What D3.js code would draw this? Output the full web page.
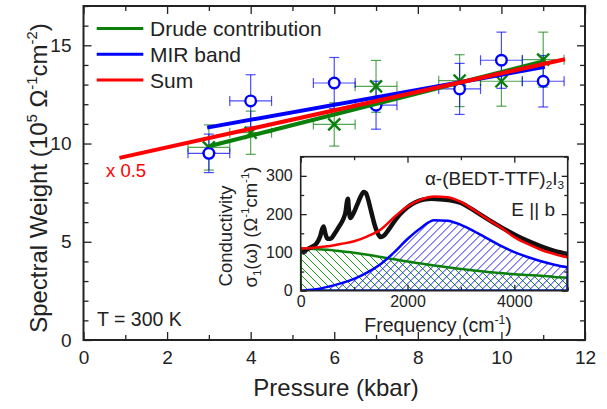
<!DOCTYPE html>
<html>
<head>
<meta charset="utf-8">
<script src="https://cdn.jsdelivr.net/npm/d3@7"></script>
<style>
  body { margin: 0; background: #fff; }
  svg { display: block; }
  text { font-family: "Liberation Sans", Arial, sans-serif; fill: #222; }
</style>
</head>
<body>
<div id="chart"></div>
<script>
const WIDTH = 607;
const HEIGHT = 409;

// main panel: spectral weight vs pressure
const pressure = [3, 4, 6, 7, 9, 10, 11];
const pressureErr = 0.5;
const mirWeight = [9.5, 12.17, 13.08, 11.95, 12.78, 14.24, 13.17];
const mirErr = [0.98, 1.33, 1.3, 1.22, 1.3, 1.43, 1.31];
const drudeWeight = [9.8, 10.55, 10.97, 12.91, 13.2, 13.17, 14.27];
const drudeErr = [1.15, 1.1, 1.1, 1.32, 1.32, 1.27, 1.4];

// linear fits (end points)
const drudeFit = [[3, 9.86], [11.04, 14.2]];
const mirFit = [[2.96, 10.81], [11.04, 13.9]];
const sumFit = [[0.86, 9.27], [11.52, 14.29]];

const xTicks = [0, 2, 4, 6, 8, 10, 12];
const yTicks = [0, 5, 10, 15];

// inset: optical conductivity
const fitFreq = [0, 250, 500, 750, 1000, 1250, 1500, 1750, 2000, 2250, 2500,
  2750, 3000, 3250, 3500, 3750, 4000, 4250, 4500, 4750, 5000];
const drudeSigma = [110, 109, 107, 103, 99, 94, 88, 82, 76, 71, 66,
  61, 57, 53, 49, 46, 43, 41, 39, 36, 34];
const mirSigma = [0, 3, 10, 19, 31, 48, 70, 100, 135, 164, 184,
  183, 172, 155, 136, 117, 101, 88, 77, 68, 61];
const sumSigma = [110, 112, 116, 122, 129, 142, 160, 192, 220, 238, 246,
  244, 232, 210, 187, 165, 140, 122, 107, 96, 87];
const dataFreq = [20, 100, 200, 300, 360, 400, 430, 460, 500, 560, 640, 720,
  800, 840, 870, 885, 900, 930, 980, 1050, 1120, 1180, 1220, 1260, 1300, 1350,
  1400, 1450, 1500, 1560, 1650, 1750, 1850, 2000, 2150, 2300, 2450, 2600, 2800,
  3000, 3250, 3500, 3750, 4000, 4250, 4500, 4750, 5000];
const dataSigma = [98, 106, 114, 124, 140, 160, 168, 150, 136, 136, 150, 168,
  188, 205, 235, 240, 215, 190, 200, 222, 245, 258, 255, 240, 218, 190,
  165, 148, 140, 144, 160, 180, 198, 218, 231, 238, 240, 239, 236,
  229, 209, 187, 166, 147, 130, 116, 104, 96];
const insetXTicks = [0, 2000, 4000];
const insetYTicks = [0, 100, 200, 300];

const GREEN = "#0a800a";
const BLUE = "#0000ff";
const RED = "#ff0000";

const svg = d3.select("#chart")
  .append("svg")
  .attr("width", WIDTH)
  .attr("height", HEIGHT);

// text with super/subscripts: parts = [[string, "sup" | "sub" | null], ...]
const richText = (sel, parts, size) => {
  parts.forEach(([str, kind]) => {
    const t = sel.append("tspan").text(str);
    if (kind) {
      t.attr("font-size", size * 0.62)
        .attr("baseline-shift", kind === "sup" ? size * 0.42 : -size * 0.22);
    }
  });
  return sel;
};

const x = d3.scaleLinear().domain([0, 12]).range([83.5, 585]);
const y = d3.scaleLinear().domain([0, 17]).range([340, 6]);

const drawFrameAxes = (xs, ys, xMajor, xMinor, yMajor, yMinor, major, minor, font, padX, padY, frameW) => {
  const [x0, x1] = xs.range();
  const [y0, y1] = ys.range();
  const g = svg.append("g");
  const axes = [
    [d3.axisBottom, xs, xMajor, xMinor, `translate(0,${y0})`, true],
    [d3.axisTop, xs, xMajor, xMinor, `translate(0,${y1})`, false],
    [d3.axisLeft, ys, yMajor, yMinor, `translate(${x0},0)`, true],
    [d3.axisRight, ys, yMajor, yMinor, `translate(${x1},0)`, false]
  ];
  axes.forEach(([axis, scale, maj, mnr, tr, labels], i) => {
    g.append("g")
      .attr("transform", tr)
      .call(axis(scale).tickValues(mnr).tickSize(-minor).tickFormat(""))
      .call(a => a.select(".domain").remove());
    const ga = g.append("g")
      .attr("transform", tr)
      .call(axis(scale).tickValues(maj).tickSize(-major)
        .tickPadding(i === 0 ? padX : padY)
        .tickFormat(labels ? d3.format("d") : ""))
      .call(a => a.select(".domain").remove());
    ga.selectAll("text")
      .attr("font-size", font)
      .attr("font-family", null)
      .attr("fill", "#222");
  });
  g.selectAll("line").attr("stroke", "#222").attr("stroke-width", 1.3);
  g.append("rect")
    .attr("x", x0).attr("y", y1)
    .attr("width", x1 - x0).attr("height", y0 - y1)
    .attr("fill", "none")
    .attr("stroke", "#222")
    .attr("stroke-width", frameW);
  return g;
};

drawFrameAxes(x, y, xTicks, d3.range(1, 12, 2), yTicks,
  d3.range(0, 18).filter(v => v % 5 !== 0), 8, 5, 19, 11, 12, 2);

// axis titles
svg.append("text")
  .attr("x", 336).attr("y", 396)
  .attr("text-anchor", "middle")
  .attr("font-size", 24)
  .text("Pressure (kbar)");

richText(svg.append("text")
  .attr("transform", "translate(47,178) rotate(-90)")
  .attr("text-anchor", "middle")
  .attr("font-size", 24),
  [["Spectral Weight (10", null], ["5", "sup"], [" \u03A9", null], ["-1", "sup"],
   ["cm", null], ["-2", "sup"], [")", null]], 24);

// inset
const ix = d3.scaleLinear().domain([0, 5000]).range([300.7, 567.7]);
const iy = d3.scaleLinear().domain([0, 350]).range([290.7, 156.7]);
const [ix0, ix1] = ix.range();
const [iy0, iy1] = iy.range();

svg.append("rect")
  .attr("x", ix0).attr("y", iy1)
  .attr("width", ix1 - ix0).attr("height", iy0 - iy1)
  .attr("fill", "#fff");

const area = d3.area()
  .x(d => ix(d[0]))
  .y0(iy(0))
  .y1(d => iy(d[1]))
  .curve(d3.curveMonotoneX);
const line = d3.line()
  .x(d => ix(d[0]))
  .y(d => iy(d[1]))
  .curve(d3.curveMonotoneX);

const drudePts = fitFreq.map((f, i) => [f, drudeSigma[i]]);
const mirPts = fitFreq.map((f, i) => [f, mirSigma[i]]);
const sumPts = fitFreq.map((f, i) => [f, sumSigma[i]]);
const dataPts = dataFreq.map((f, i) => [f, dataSigma[i]]);

const defs = svg.append("defs");
defs.append("clipPath").attr("id", "insetClip")
  .append("rect")
  .attr("x", ix0).attr("y", iy1)
  .attr("width", ix1 - ix0).attr("height", iy0 - iy1);
defs.append("clipPath").attr("id", "drudeClip")
  .append("path").attr("d", area(drudePts));
defs.append("clipPath").attr("id", "mirClip")
  .append("path").attr("d", area(mirPts));

const inset = svg.append("g").attr("clip-path", "url(#insetClip)");

// diagonal hatching, clipped to a filled area
const hatchLines = (clipId, color, dir) => {
  const step = 8;
  const h = iy0 - iy1;
  const g = inset.append("g").attr("clip-path", `url(#${clipId})`);
  g.selectAll("line")
    .data(d3.range(ix0 - h, ix1 + h, step))
    .enter()
    .append("line")
    .attr("x1", d => d)
    .attr("y1", iy1)
    .attr("x2", d => d + (dir === "back" ? h : -h))
    .attr("y2", iy0)
    .attr("stroke", color)
    .attr("stroke-width", 1);
};
hatchLines("drudeClip", "#1a951a", "back");
hatchLines("mirClip", "#1f1fff", "fwd");

inset.append("path")
  .attr("d", area(drudePts))
  .attr("fill", "none")
  .attr("stroke", GREEN)
  .attr("stroke-width", 2.5);
inset.append("path")
  .attr("d", area(mirPts))
  .attr("fill", "none")
  .attr("stroke", BLUE)
  .attr("stroke-width", 2.5);
inset.append("path")
  .attr("d", line(dataPts))
  .attr("fill", "none")
  .attr("stroke", "#111")
  .attr("stroke-width", 4.5)
  .attr("stroke-linejoin", "round");
inset.append("path")
  .attr("d", line(sumPts))
  .attr("fill", "none")
  .attr("stroke", RED)
  .attr("stroke-width", 2.5);

drawFrameAxes(ix, iy, insetXTicks, [1000, 3000, 5000], insetYTicks,
  [50, 150, 250, 350], 6, 3.5, 16, 5, 8, 1.6);

// inset texts
richText(svg.append("text")
  .attr("x", 564).attr("y", 185)
  .attr("text-anchor", "end")
  .attr("font-size", 19),
  [["\u03B1-(BEDT-TTF)", null], ["2", "sub"], ["I", null], ["3", "sub"]], 19);

svg.append("text")
  .attr("x", 555).attr("y", 216)
  .attr("text-anchor", "end")
  .attr("font-size", 19)
  .text("E || b");

svg.append("text")
  .attr("transform", "translate(232,236) rotate(-90)")
  .attr("text-anchor", "middle")
  .attr("font-size", 18.5)
  .text("Conductivity");

richText(svg.append("text")
  .attr("transform", "translate(257,227) rotate(-90)")
  .attr("text-anchor", "middle")
  .attr("font-size", 18.5),
  [["\u03C3", null], ["1", "sub"], ["(\u03C9) (\u03A9", null], ["-1", "sup"],
   ["cm", null], ["-1", "sup"], [")", null]], 18.5);

richText(svg.append("text")
  .attr("x", 438).attr("y", 332)
  .attr("text-anchor", "middle")
  .attr("font-size", 19.5),
  [["Frequency (cm", null], ["-1", "sup"], [")", null]], 19.5);

// error bars
const errorBars = (values, errs, color) => {
  const g = svg.append("g")
    .attr("stroke", color)
    .attr("stroke-width", 1.2)
    .attr("stroke-opacity", 0.7);
  pressure.forEach((p, i) => {
    const cx = x(p);
    const cy = y(values[i]);
    const top = y(values[i] + errs[i]);
    const bot = y(values[i] - errs[i]);
    const left = x(p - pressureErr);
    const right = x(p + pressureErr);
    g.append("line").attr("x1", cx).attr("x2", cx).attr("y1", top).attr("y2", bot);
    g.append("line").attr("x1", cx - 5).attr("x2", cx + 5).attr("y1", top).attr("y2", top);
    g.append("line").attr("x1", cx - 5).attr("x2", cx + 5).attr("y1", bot).attr("y2", bot);
    g.append("line").attr("x1", left).attr("x2", right).attr("y1", cy).attr("y2", cy);
    g.append("line").attr("x1", left).attr("x2", left).attr("y1", cy - 5).attr("y2", cy + 5);
    g.append("line").attr("x1", right).attr("x2", right).attr("y1", cy - 5).attr("y2", cy + 5);
  });
};
errorBars(drudeWeight, drudeErr, GREEN);
errorBars(mirWeight, mirErr, BLUE);

// markers
svg.append("g")
  .selectAll("path")
  .data(pressure)
  .enter()
  .append("path")
  .attr("d", (p, i) => {
    const cx = x(p), cy = y(drudeWeight[i]), r = 6;
    return `M${cx - r},${cy - r}L${cx + r},${cy + r}M${cx - r},${cy + r}L${cx + r},${cy - r}`;
  })
  .attr("stroke", GREEN)
  .attr("stroke-width", 2.4);

svg.append("g")
  .selectAll("circle")
  .data(pressure)
  .enter()
  .append("circle")
  .attr("cx", p => x(p))
  .attr("cy", (p, i) => y(mirWeight[i]))
  .attr("r", 5.3)
  .attr("fill", "#fff")
  .attr("stroke", BLUE)
  .attr("stroke-width", 2.4);

// fit lines
const fitLine = d3.line().x(d => x(d[0])).y(d => y(d[1]));
[[drudeFit, GREEN], [mirFit, BLUE], [sumFit, RED]].forEach(([pts, color]) => {
  svg.append("path")
    .attr("d", fitLine(pts))
    .attr("fill", "none")
    .attr("stroke", color)
    .attr("stroke-width", 4);
});

// legend
const legend = [["Drude contribution", GREEN], ["MIR band", BLUE], ["Sum", RED]];
legend.forEach(([label, color], i) => {
  const ly = 28.5 + i * 25.8;
  svg.append("line")
    .attr("x1", 96.7).attr("x2", 143.3)
    .attr("y1", ly).attr("y2", ly)
    .attr("stroke", color)
    .attr("stroke-width", 3);
  svg.append("text")
    .attr("x", 150).attr("y", ly + 7.8)
    .attr("font-size", 21)
    .text(label);
});

svg.append("text")
  .attr("x", 106).attr("y", 177)
  .attr("font-size", 18.5)
  .style("fill", RED)
  .text("x 0.5");

svg.append("text")
  .attr("x", 97).attr("y", 326)
  .attr("font-size", 19.5)
  .text("T = 300 K");
</script>
</body>
</html>
